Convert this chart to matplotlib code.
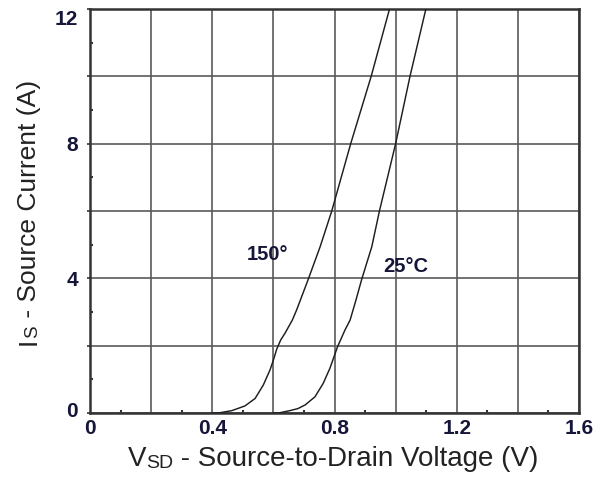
"""Source current vs source-to-drain voltage (body diode), 25 C and 150 C."""
import matplotlib
matplotlib.use("Agg")
import matplotlib.pyplot as plt
import matplotlib.transforms as mtransforms
import numpy as np

plt.rcParams["font.family"] = ["Liberation Sans", "DejaVu Sans"]

# curves
v_150 = [0.40, 0.42, 0.464, 0.507, 0.54, 0.567, 0.589, 0.601, 0.611, 0.624,
         0.638, 0.662, 0.676, 0.714, 0.753, 0.791, 0.853, 0.92, 0.98]
i_150 = [0.0, 0.0, 0.07, 0.21, 0.43, 0.83, 1.28, 1.60, 1.90, 2.17,
         2.37, 2.76, 3.06, 3.97, 4.94, 6.0, 8.0, 10.0, 12.0]

v_25 = [0.60, 0.617, 0.654, 0.68, 0.704, 0.736, 0.763, 0.785, 0.81, 0.834,
        0.851, 0.87, 0.889, 0.922, 0.947, 1.0, 1.047, 1.099]
i_25 = [0.0, 0.0, 0.07, 0.13, 0.24, 0.48, 0.88, 1.33, 1.97, 2.46,
        2.76, 3.35, 3.97, 4.94, 6.0, 8.0, 10.0, 12.0]

x_ticks = [0.0, 0.2, 0.4, 0.6, 0.8, 1.0, 1.2, 1.4, 1.6]
x_tick_labels = ["0", "", "0.4", "", "0.8", "", "1.2", "", "1.6"]
y_ticks = [0, 2, 4, 6, 8, 10, 12]
y_tick_labels = ["0", "", "4", "", "8", "", "12"]

curve_labels = ["150°", "25°C"]
label_pos = [(0.582, 4.54), (1.034, 4.20)]

TICK_COLOR = "#16163a"
TEXT_COLOR = "#222222"

fig = plt.figure(figsize=(6.03, 4.8), dpi=100)
ax = fig.add_axes([0.1493, 0.1396, 0.8109, 0.8417])

ax.plot(v_150, i_150, color="#1e1e1e", lw=1.05, zorder=3)
ax.plot(v_25, i_25, color="#1e1e1e", lw=1.05, zorder=3)

for txt, (x, y) in zip(curve_labels, label_pos):
    ax.text(x, y, txt, ha="center", va="baseline", fontsize=14.5,
            fontweight="bold", color=TICK_COLOR, zorder=4)

ax.set_xlim(0, 1.6)
ax.set_ylim(0, 12)
ax.set_xticks(x_ticks)
ax.set_xticklabels(x_tick_labels)
ax.set_yticks(y_ticks)
ax.set_yticklabels(y_tick_labels)
ax.set_xticks(np.arange(0.1, 1.6, 0.2), minor=True)
ax.set_yticks(np.arange(1, 12, 2), minor=True)

ax.grid(True, which="major", color="#5a5a5a", lw=1.2)
ax.set_axisbelow(True)

ax.tick_params(axis="x", which="major", length=0, pad=4,
               labelsize=15, labelcolor=TICK_COLOR)
ax.tick_params(axis="y", which="major", direction="out", length=2.5,
               width=1.2, color="#333333", pad=6,
               labelsize=15, labelcolor=TICK_COLOR)
ax.tick_params(which="minor", direction="in", length=2.5, width=1.5,
               color="#333333")
for lab in ax.get_xticklabels() + ax.get_yticklabels():
    lab.set_fontweight("bold")

# the end labels on the y axis sit a little inside the frame
ylabs = ax.get_yticklabels()
ylabs[-1].set_transform(ylabs[-1].get_transform() + mtransforms.ScaledTranslation(
    0, -9 / 100, fig.dpi_scale_trans))
ylabs[0].set_transform(ylabs[0].get_transform() + mtransforms.ScaledTranslation(
    0, 3 / 100, fig.dpi_scale_trans))

for sp in ax.spines.values():
    sp.set_color("#333333")
    sp.set_linewidth(1.8)

# x label: "V" + small "SD" on the same baseline
t1 = fig.text(0.212, 0.0173, "V", fontsize=20, color=TEXT_COLOR,
              ha="left", va="bottom")
t2 = ax.annotate("SD", xy=(1, 0), xycoords=t1, ha="left", va="bottom",
                 fontsize=14, color=TEXT_COLOR, annotation_clip=False)
ax.annotate(" - Source-to-Drain Voltage (V)", xy=(1, 0), xycoords=t2,
            ha="left", va="bottom", fontsize=20, color=TEXT_COLOR,
            annotation_clip=False)

# y label: "I" + small "S", rotated
u1 = fig.text(0.068, 0.281, "I", fontsize=19, rotation=90, color=TEXT_COLOR,
              ha="right", va="bottom")
u2 = ax.annotate("S", xy=(1, 1), xycoords=u1, ha="right", va="bottom",
                 rotation=90, fontsize=13.5, color=TEXT_COLOR,
                 annotation_clip=False)
ax.annotate(" - Source Current (A)", xy=(1, 1), xycoords=u2, ha="right",
            va="bottom", rotation=90, fontsize=19, color=TEXT_COLOR,
            annotation_clip=False)

fig.savefig("out.png", dpi=100)
